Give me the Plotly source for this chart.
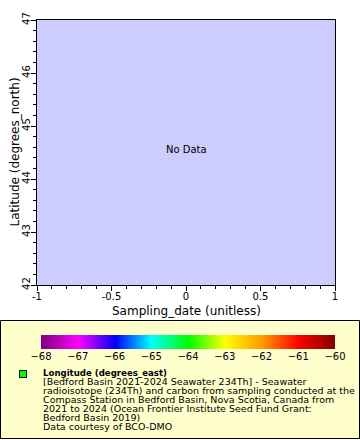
import plotly.graph_objects as go

# Data (the source reports "No Data")
sampling_date = []
latitude = []
longitude = []

x_range = [-1, 1]
y_range = [42, 47]
x_ticks = [-1, -0.5, 0, 0.5, 1]
x_ticklabels = ["-1", "-0.5", "0", "0.5", "1"]
y_ticks = [42, 43, 44, 45, 46, 47]
cbar_ticks = [-68, -67, -66, -65, -64, -63, -62, -61, -60]
cbar_colors = ["#800080", "#FF00FF", "#0000FF", "#00FFFF", "#00FF00",
               "#FFFF00", "#FF9900", "#FF0000", "#800000"]

legend_title = "Longitude (degrees_east)"
legend_lines = [
    "[Bedford Basin 2021-2024 Seawater 234Th] - Seawater",
    "radioisotope (234Th) and carbon from sampling conducted at the",
    "Compass Station in Bedford Basin, Nova Scotia, Canada from",
    "2021 to 2024 (Ocean Frontier Institute Seed Fund Grant:",
    "Bedford Basin 2019)",
    "Data courtesy of BCO-DMO",
]

W, H = 360, 440
L, R, T, B = 37, 25, 20, 0
PW, PH = W - L - R, H - T - B

def px(xp):
    return (xp - L) / PW

def py(yp):
    return (H - B - yp) / PH

FONT = "DejaVu Sans"

n = len(cbar_ticks)
colorscale = [[i / (n - 1), c] for i, c in enumerate(cbar_colors)]

fig = go.Figure()
fig.add_trace(go.Scatter(
    x=sampling_date, y=latitude, mode="markers",
    marker=dict(color=longitude, colorscale=colorscale,
                cmin=cbar_ticks[0], cmax=cbar_ticks[-1]),
    showlegend=False,
))
# colour scale bar
fig.add_trace(go.Heatmap(
    z=[cbar_ticks], x=cbar_ticks, y=[0], xaxis="x2", yaxis="y2",
    colorscale=colorscale, zmin=cbar_ticks[0], zmax=cbar_ticks[-1],
    zsmooth="best", showscale=False, hoverinfo="skip",
))

axis_common = dict(
    showline=True, linecolor="black", linewidth=1, mirror=True,
    ticks="outside", ticklen=5, tickcolor="black", showgrid=False,
    zeroline=False, tickfont=dict(family=FONT, size=10, color="black"),
)

fig.update_layout(
    xaxis=dict(
        range=x_range, tickvals=x_ticks, ticktext=x_ticklabels,
        minor=dict(dtick=0.1, ticks="outside", ticklen=3, tickcolor="black"),
        anchor="y", ticklabelstandoff=-3, **axis_common,
    ),
    yaxis=dict(
        range=y_range, tickvals=y_ticks, tickangle=-90,
        minor=dict(dtick=0.2, ticks="outside", ticklen=3, tickcolor="black"),
        domain=[py(285), 1], anchor="x", ticklabelstandoff=-3, **axis_common,
    ),
    xaxis2=dict(
        range=[cbar_ticks[0], cbar_ticks[-1]], tickvals=cbar_ticks,
        domain=[px(41), px(335)], anchor="y2", ticks="", showline=False,
        showgrid=False, zeroline=False,
        tickfont=dict(family=FONT, size=10, color="black"),
    ),
    yaxis2=dict(
        range=[-0.5, 0.5], domain=[py(349), py(335)], anchor="x2",
        visible=False,
    ),
)

shapes = [
    dict(type="rect", xref="paper", yref="paper",
         x0=px(0.5), x1=px(359.5), y0=py(438.5), y1=py(320.5),
         fillcolor="#FFFFCC", line=dict(color="black", width=1), layer="below"),
    dict(type="rect", xref="paper", yref="paper",
         x0=px(19.5), x1=px(26.5), y0=py(377.5), y1=py(370.5),
         fillcolor="#00FF00", line=dict(color="black", width=1)),
]

annotations = [
    dict(text="No Data", x=px(186), y=py(149), xref="paper", yref="paper",
         xanchor="center", yanchor="middle", borderpad=0,
         showarrow=False, font=dict(family=FONT, size=10, color="black")),
    dict(text="Sampling_date (unitless)", x=px(186.5), y=py(311),
         xref="paper", yref="paper", xanchor="center", yanchor="middle",
         showarrow=False, borderpad=0,
         font=dict(family=FONT, size=12, color="black")),
    dict(text="Latitude (degrees_north)", x=px(14), y=py(152.5),
         xref="paper", yref="paper", xanchor="center", yanchor="middle",
         textangle=-90, showarrow=False, borderpad=0,
         font=dict(family=FONT, size=12, color="black")),
    dict(text="<b>" + legend_title + "</b>", x=px(42), y=py(372.5),
         xref="paper", yref="paper", xanchor="left", yanchor="middle",
         showarrow=False, borderpad=0,
         font=dict(family=FONT, size=8.6, color="black")),
]
for i, line in enumerate(legend_lines):
    annotations.append(dict(
        text=line, x=px(42), y=py(381.8 + 8.95 * i),
        xref="paper", yref="paper", xanchor="left", yanchor="middle",
        showarrow=False, borderpad=0,
        font=dict(family=FONT, size=9.5, color="black")))

fig.update_layout(
    width=W, height=H, margin=dict(l=L, r=R, t=T, b=B, autoexpand=False),
    plot_bgcolor="#CCCCFF", paper_bgcolor="white",
    shapes=shapes, annotations=annotations, showlegend=False,
)

fig.write_html("out.html", config={"displayModeBar": False},
               post_script="document.body.style.margin='0';"
                           "document.body.style.overflow='hidden';")
